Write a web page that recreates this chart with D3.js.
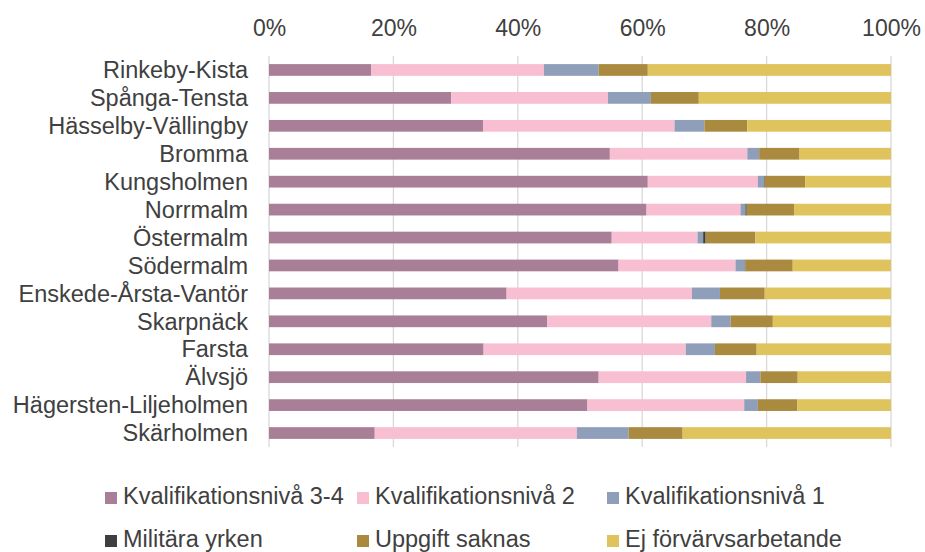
<!DOCTYPE html>
<html>
<head>
<meta charset="utf-8">
<script src="https://cdn.jsdelivr.net/npm/d3@7"></script>
<style>
  body { margin: 0; background: #fff; }
  text { font-family: "Liberation Sans", Arial, sans-serif; fill: #404040; }
</style>
</head>
<body>
<div id="chart"></div>
<script>
var districts = ["Rinkeby-Kista", "Spånga-Tensta", "Hässelby-Vällingby", "Bromma", "Kungsholmen",
  "Norrmalm", "Östermalm", "Södermalm", "Enskede-Årsta-Vantör", "Skarpnäck", "Farsta",
  "Älvsjö", "Hägersten-Liljeholmen", "Skärholmen"];

var seriesNames = ["Kvalifikationsnivå 3-4", "Kvalifikationsnivå 2", "Kvalifikationsnivå 1",
  "Militära yrken", "Uppgift saknas", "Ej förvärvsarbetande"];

var seriesColors = ["#a97f97", "#f8bed2", "#8f9fba", "#3f3f3f", "#aa8a3e", "#dfc35c"];

// shares in % per district, same order as districts
var niva34 = [16.4, 29.3, 34.4, 54.8, 60.9, 60.7, 55.1, 56.2, 38.2, 44.7, 34.5, 53.0, 51.2, 17.0];
var niva2  = [27.8, 25.2, 30.8, 22.1, 17.7, 15.1, 13.8, 18.8, 29.8, 26.4, 32.5, 23.7, 25.2, 32.5];
var niva1  = [8.8, 6.9, 4.8, 1.9, 1.0, 0.8, 0.9, 1.5, 4.5, 3.1, 4.7, 2.3, 2.2, 8.3];
var militar = [0.0, 0.0, 0.0, 0.0, 0.1, 0.2, 0.4, 0.1, 0.0, 0.0, 0.0, 0.0, 0.0, 0.0];
var saknas = [7.9, 7.7, 6.9, 6.5, 6.5, 7.6, 8.0, 7.6, 7.2, 6.8, 6.7, 6.0, 6.3, 8.7];
var ejForv = [39.1, 30.9, 23.1, 14.7, 13.8, 15.6, 21.8, 15.8, 20.3, 19.0, 21.6, 15.0, 15.1, 33.5];

var xTicks = [0, 20, 40, 60, 80, 100];

var seriesValues = [niva34, niva2, niva1, militar, saknas, ejForv];

var W = 925, H = 552;
var margin = {top: 56, bottom: 447, left: 269, right: 891};

var svg = d3.select("#chart").append("svg")
  .attr("width", W).attr("height", H);

var table = districts.map(function(d, i) {
  var row = {district: d};
  seriesNames.forEach(function(s, j) { row[s] = seriesValues[j][i]; });
  return row;
});

var stacked = d3.stack().keys(seriesNames).offset(d3.stackOffsetExpand)(table);

var xScale = d3.scaleLinear().domain([0, 1]).range([margin.left, margin.right]);
var yScale = d3.scaleBand().domain(districts)
  .range([margin.top, margin.bottom]).paddingInner(0.58).paddingOuter(0.29);

// gridlines
svg.append("g")
  .selectAll("line")
  .data(xTicks)
  .join("line")
    .attr("x1", d => xScale(d / 100)).attr("x2", d => xScale(d / 100))
    .attr("y1", margin.top).attr("y2", margin.bottom)
    .attr("stroke", "#d9d9d9").attr("stroke-width", 1.3);

// x axis on top
var xAxis = svg.append("g")
  .attr("transform", "translate(0,36)")
  .call(d3.axisTop(xScale).tickValues(xTicks.map(d => d / 100)).tickFormat(d3.format(".0%")).tickSize(0));
xAxis.select(".domain").remove();
xAxis.selectAll("text").style("font-size", "23px").attr("dy", 0).attr("y", 0);

// bars
svg.append("g")
  .selectAll("g")
  .data(stacked)
  .join("g")
    .attr("fill", (d, i) => seriesColors[i])
  .selectAll("rect")
  .data(d => d)
  .join("rect")
    .attr("x", d => xScale(d[0]))
    .attr("width", d => Math.max(0, xScale(d[1]) - xScale(d[0])))
    .attr("y", d => yScale(d.data.district))
    .attr("height", yScale.bandwidth());

// y axis labels
var yAxis = svg.append("g")
  .attr("transform", "translate(248,0)")
  .call(d3.axisLeft(yScale).tickSize(0));
yAxis.select(".domain").remove();
yAxis.selectAll("text").style("font-size", "23.5px").attr("x", 0).attr("dy", "0.35em");

// legend
var legendCols = [105, 357, 607];
var legendRows = [498, 541];
var legend = svg.append("g")
  .selectAll("g")
  .data(seriesNames)
  .join("g")
    .attr("transform", (d, i) => "translate(" + legendCols[i % 3] + "," + legendRows[Math.floor(i / 3)] + ")");

legend.append("rect")
  .attr("x", 0).attr("y", -6)
  .attr("width", 12).attr("height", 12)
  .attr("fill", (d, i) => seriesColors[i]);

legend.append("text")
  .attr("x", 18).attr("y", 6)
  .style("font-size", "23.5px")
  .text(d => d);
</script>
</body>
</html>
